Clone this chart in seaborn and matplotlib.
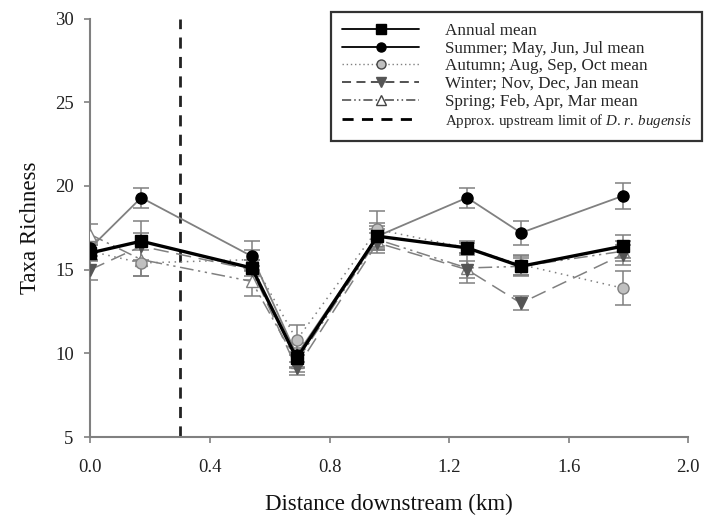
import numpy as np
import pandas as pd
import matplotlib
matplotlib.use("Agg")
import matplotlib.pyplot as plt
from matplotlib.lines import Line2D
import seaborn as sns

distance = [0.0, 0.17, 0.54, 0.69, 0.96, 1.26, 1.44, 1.78]

annual = [16.0, 16.7, 15.1, 9.7, 17.0, 16.3, 15.2, 16.4]
annual_err = [0.5, 1.2, 0.5, 0.6, 0.6, 0.3, 0.5, 0.7]

summer = [16.3, 19.3, 15.8, 9.9, 17.0, 19.3, 17.2, 19.4]
summer_err = [0.5, 0.6, 0.9, 0.7, 0.8, 0.6, 0.7, 0.8]

autumn = [16.1, 15.4, 15.6, 10.8, 17.4, 16.3, 15.3, 13.9]
autumn_err = [0.5, 0.8, 0.6, 0.9, 1.1, 0.4, 0.6, 1.0]

winter = [15.0, 16.4, 15.0, 9.1, 16.6, 15.0, 13.0, 15.9]
winter_err = [0.6, 0.8, 0.6, 0.4, 0.6, 0.5, 0.4, 0.6]

spring = [17.1, 15.6, 14.3, 9.5, 16.8, 15.1, 15.2, 16.1]
spring_err = [0.6, 1.0, 0.9, 0.6, 0.6, 0.9, 0.6, 0.6]

limit_x = 0.3

labels = ["Annual mean", "Summer; May, Jun, Jul mean", "Autumn; Aug, Sep, Oct mean",
          "Winter; Nov, Dec, Jan mean", "Spring; Feb, Apr, Mar mean"]

sns.set_style("white")
plt.rcParams['font.family'] = ['Liberation Serif', 'DejaVu Serif']
plt.rcParams['mathtext.fontset'] = 'custom'
plt.rcParams['mathtext.it'] = 'Liberation Serif:italic'
plt.rcParams['mathtext.rm'] = 'Liberation Serif'

fig = plt.figure(figsize=(7.06, 5.16), dpi=100)
ax = fig.add_axes([0.128, 0.153, 0.847, 0.811])

grey = "#808080"
dashdotdot = (0, (9, 3, 1.5, 3, 1.5, 3))

styles = [
    dict(vals=spring, err=spring_err, ls=dashdotdot, lc=grey, lw=1.1, marker="^", mfc="white", mec=grey, ms=8),
    dict(vals=winter, err=winter_err, ls=(0, (10, 5)), lc=grey, lw=1.1, marker="v", mfc="#555555", mec="#555555", ms=8),
    dict(vals=autumn, err=autumn_err, ls=(0, (1, 3)), lc=grey, lw=1.1, marker="o", mfc="#c0c0c0", mec=grey, ms=8),
    dict(vals=summer, err=summer_err, ls="-", lc=grey, lw=1.3, marker="o", mfc="black", mec="black", ms=8),
    dict(vals=annual, err=annual_err, ls="-", lc="black", lw=2.4, marker="s", mfc="black", mec="black", ms=8),
]

for s in styles:
    ax.errorbar(distance, s["vals"], yerr=s["err"], fmt="none", ecolor=grey,
                elinewidth=1.1, capsize=6, capthick=1.1, zorder=2)
    df = pd.DataFrame({"x": distance, "y": s["vals"]})
    sns.lineplot(data=df, x="x", y="y", ax=ax, color=s["lc"], linewidth=s["lw"],
                 linestyle=s["ls"], marker=s["marker"], markersize=s["ms"],
                 markerfacecolor=s["mfc"], markeredgecolor=s["mec"], markeredgewidth=1.0,
                 zorder=3, legend=False)
    ax.lines[-1].set_linestyle(s["ls"])

ax.axvline(limit_x, color="#222222", linestyle=(0, (4, 3)), linewidth=2.0, zorder=1)

ax.set_xlim(0.0, 2.0)
ax.set_ylim(5, 30)
ax.set_xticks([0.0, 0.4, 0.8, 1.2, 1.6, 2.0])
ax.set_xticklabels(["0.0", "0.4", "0.8", "1.2", "1.6", "2.0"])
ax.set_yticks([5, 10, 15, 20, 25, 30])
ax.tick_params(axis="both", direction="out", length=4, width=1.2, color=grey,
               labelsize=13.5, labelcolor="#222222", bottom=True, left=True)
ax.tick_params(axis="x", pad=12)
ax.tick_params(axis="y", pad=8)
for side in ["top", "right"]:
    ax.spines[side].set_visible(False)
for side in ["left", "bottom"]:
    ax.spines[side].set_color(grey)
    ax.spines[side].set_linewidth(1.5)
ax.set_xlabel("Distance downstream (km)", fontsize=16.5, labelpad=13, color="#111111")
ax.set_ylabel("Taxa Richness", fontsize=16.5, labelpad=10, color="#111111")

handles = [
    Line2D([], [], color="black", lw=1.3, marker="s", ms=6.5, mfc="black", mec="black"),
    Line2D([], [], color="black", lw=1.3, marker="o", ms=6.5, mfc="black", mec="black"),
    Line2D([], [], color=grey, lw=1.0, ls=(0, (1, 2)), marker="o", ms=6.5, mfc="#c0c0c0", mec="#444444"),
    Line2D([], [], color="#444444", lw=1.3, ls=(0, (5, 3)), marker="v", ms=6.5, mfc="#555555", mec="#555555"),
    Line2D([], [], color="#444444", lw=1.1, ls=(0, (6, 2, 1, 2, 1, 2)), marker="^", ms=6.5, mfc="white", mec="#444444"),
    Line2D([], [], color="black", lw=2.0, ls=(0, (4, 3))),
]
leg_labels = labels + [r"Approx. upstream limit of $D.\,r.\,bugensis$"]
leg = fig.legend(handles, leg_labels, loc="upper right", bbox_to_anchor=(0.995, 0.977),
                 fontsize=12.3, frameon=True, fancybox=False, handlelength=4.5,
                 handletextpad=1.5, borderpad=0.65, labelspacing=0.1, borderaxespad=0)
leg.get_texts()[-1].set_fontsize(10.8)
leg.get_frame().set_edgecolor("black")
leg.get_frame().set_linewidth(1.6)

fig.savefig("out.png", dpi=100)
